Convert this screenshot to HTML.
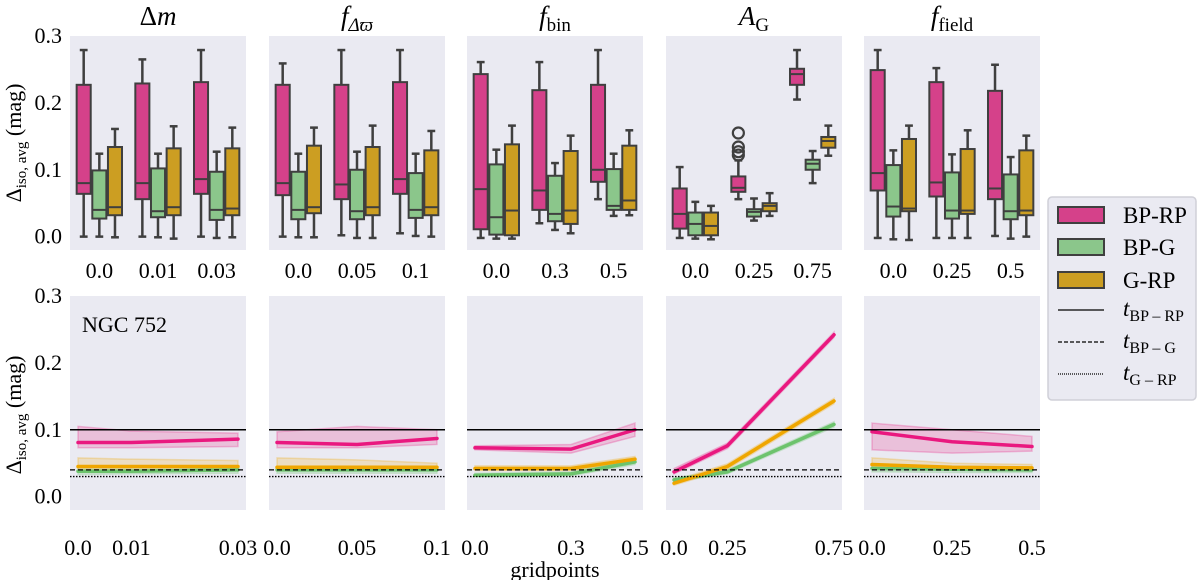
<!DOCTYPE html>
<html><head><meta charset="utf-8"><style>
body{margin:0;background:#fff;}
svg{display:block;}
svg text{font-family:"Liberation Serif","Times New Roman","DejaVu Serif",serif;}
</style></head><body>
<svg id="fig" width="1200" height="580" viewBox="0 0 1200 580" xmlns="http://www.w3.org/2000/svg"></svg>
<script>
// ---- data ----
const panelTitles = ['Δm','f_Δϖ','f_bin','A_G','f_field'];
const panelCats = [['0.0','0.01','0.03'],['0.0','0.05','0.1'],['0.0','0.3','0.5'],['0.0','0.25','0.75'],['0.0','0.25','0.5']];
const panelX = [[0,0.01,0.03],[0,0.05,0.1],[0,0.3,0.5],[0,0.25,0.75],[0,0.25,0.5]];
const seriesNames = ['BP-RP','BP-G','G-RP'];
const yTicks = [0.0,0.1,0.2,0.3];
// box stats [lo,q1,med,q3,hi] per panel -> category -> series
const boxStats = [
 [[[0,.064,.080,.227,.279],[0,.027,.040,.099,.124],[-.001,.032,.044,.134,.161]],
  [[0,.056,.080,.229,.265],[-.001,.029,.038,.102,.124],[-.003,.032,.044,.132,.165]],
  [[0,.064,.086,.231,.279],[-.002,.025,.040,.097,.127],[-.001,.032,.042,.132,.163]]],
 [[[0,.062,.080,.227,.259],[-.001,.026,.040,.097,.124],[-.001,.035,.044,.136,.163]],
  [[.002,.056,.078,.227,.279],[-.002,.026,.038,.100,.127],[-.002,.032,.044,.134,.166]],
  [[.005,.064,.086,.231,.279],[.001,.028,.040,.095,.124],[0,.032,.044,.129,.158]]],
 [[[-.002,.011,.071,.243,.261],[-.003,.003,.029,.108,.130],[-.003,.002,.039,.138,.166]],
  [[.020,.040,.069,.219,.261],[.010,.023,.034,.091,.110],[.005,.019,.039,.128,.151]],
  [[.056,.082,.100,.227,.279],[.031,.040,.046,.101,.124],[.032,.040,.054,.136,.159]]],
 [[[-.002,.012,.034,.072,.104],[-.003,.002,.019,.036,.052],[-.004,.002,.016,.036,.046]],
  [[.056,.067,.073,.090,.114],[.024,.030,.037,.041,.057],[.031,.038,.046,.050,.065]],
  [[.205,.227,.243,.251,.279],[.080,.100,.109,.115,.128],[.121,.133,.143,.149,.166]]],
 [[[-.002,.069,.095,.249,.279],[-.004,.030,.045,.107,.129],[-.005,.038,.042,.146,.166]],
  [[-.002,.060,.081,.231,.252],[-.002,.027,.039,.096,.123],[-.002,.034,.039,.131,.159]],
  [[.001,.056,.072,.218,.257],[-.003,.026,.038,.093,.119],[0,.032,.039,.129,.151]]]
];
const outliers = [[],[],[],[[1,0,.155],[1,0,.134],[1,0,.127],[1,0,.122]],[]]; // [cat, series, value]
// line means per panel -> series
const lineMean = [
 [[.081,.081,.086],[.038,.038,.040],[.045,.045,.045]],
 [[.081,.078,.087],[.040,.040,.040],[.044,.044,.044]],
 [[.073,.071,.100],[.032,.034,.052],[.042,.042,.056]],
 [[.037,.076,.242],[.025,.037,.108],[.020,.045,.143]],
 [[.097,.082,.075],[.042,.041,.040],[.048,.044,.043]]
];
const bandLo = [
 [[.073,.073,.075],[.033,.034,.035],[.040,.040,.040]],
 [[.073,.073,.078],[.035,.035,.035],[.040,.040,.040]],
 [[.070,.065,.090],[.030,.031,.048],[.039,.039,.052]],
 [[.034,.072,.238],[.022,.034,.104],[.017,.041,.139]],
 [[.070,.065,.068],[.037,.036,.036],[.042,.040,.040]]
];
const bandHi = [
 [[.105,.098,.095],[.045,.045,.045],[.058,.056,.054]],
 [[.097,.105,.100],[.045,.045,.045],[.058,.055,.050]],
 [[.076,.078,.110],[.035,.037,.056],[.046,.046,.060]],
 [[.042,.080,.246],[.028,.040,.112],[.024,.049,.147]],
 [[.110,.100,.090],[.046,.045,.044],[.058,.050,.048]]
];
const thresholds = [0.1,0.04,0.03];
const thrNames = ['t-bp-rp','t-bp-g','t-g-rp'];

// ---- styles ----
const NS='http://www.w3.org/2000/svg';
const svg=document.getElementById('fig');
const boxCol=['#d5418a','#8bc68b','#cc9e22'];
const lineCol=['#e9187f','#6dc36d','#efa600'];
const panelLeft=[70,269,467,666,864], PW=176;
const topY0=36, topY1=250, botY0=296, botY1=510, ymin=-0.02, ymax=0.3;
function yTop(v){return topY0+(ymax-v)/(ymax-ymin)*(topY1-topY0);}
function yBot(v){return botY0+(ymax-v)/(ymax-ymin)*(botY1-botY0);}
function mk(tag,attrs,parent){const e=document.createElementNS(NS,tag);for(const k in attrs)e.setAttribute(k,attrs[k]);(parent||svg).appendChild(e);return e;}
function txt(s,attrs,parent){const e=mk('text',attrs,parent);e.textContent=s;return e;}

const titleHTML=[
 ['Δ','m',''],['f','','Δϖ'],['f','','bin'],['A','','G'],['f','','field']
];
for(let p=0;p<5;p++){
  const L=panelLeft[p];
  const t=mk('text',{x:L+PW/2,y:25,'text-anchor':'middle','font-size':27});
  
  
  const th=titleHTML[p];
  const a=mk('tspan',{'font-style':th[0]==='Δ'?'normal':'italic'},t);a.textContent=th[0];
  if(th[1]){const b=mk('tspan',{'font-style':'italic'},t);b.textContent=th[1];}
  if(th[2]){const c=mk('tspan',{'font-size':19,dy:6,'font-style':p===1?'italic':'normal'},t);c.textContent=th[2];}

  // ---- top panel ----
  const g=mk('g',{});
  
  
  mk('rect',{x:L,y:topY0,width:PW,height:topY1-topY0,fill:'#eaeaf2'},g);
  const cw=PW/3;
  for(let c=0;c<3;c++){
    const cx=L+cw*c+cw/2;
    const tl=txt(panelCats[p][c],{x:cx,y:278,'text-anchor':'middle','font-size':22},svg);
    
    
    const bw=cw*0.8/3;
    for(let s=0;s<3;s++){
      const st=boxStats[p][c][s];
      const x0=cx-cw*0.4+bw*s, xm=x0+bw/2;
      const bg=mk('g',{},g);
      
      
      mk('line',{x1:xm,x2:xm,y1:yTop(st[0]),y2:yTop(st[1]),stroke:'#3f3f3f','stroke-width':2.5},bg);
      mk('line',{x1:xm,x2:xm,y1:yTop(st[3]),y2:yTop(st[4]),stroke:'#3f3f3f','stroke-width':2.5},bg);
      mk('line',{x1:xm-bw/4,x2:xm+bw/4,y1:yTop(st[0]),y2:yTop(st[0]),stroke:'#3f3f3f','stroke-width':2.5},bg);
      mk('line',{x1:xm-bw/4,x2:xm+bw/4,y1:yTop(st[4]),y2:yTop(st[4]),stroke:'#3f3f3f','stroke-width':2.5},bg);
      mk('rect',{x:x0+0.8,y:yTop(st[3]),width:bw-1.6,height:yTop(st[1])-yTop(st[3]),fill:boxCol[s],stroke:'#3f3f3f','stroke-width':2},bg);
      mk('line',{x1:x0+0.8,x2:x0+bw-0.8,y1:yTop(st[2]),y2:yTop(st[2]),stroke:'#3f3f3f','stroke-width':2},bg);
    }
  }
  for(const o of outliers[p]){
    const bw=cw*0.8/3;
    const xm=L+cw*o[0]+cw/2-cw*0.4+bw*o[1]+bw/2;
    const oc=mk('circle',{cx:xm,cy:yTop(o[2]),r:5.5,fill:'none',stroke:'#3f3f3f','stroke-width':2.2},g);
    
    
  }

  // ---- bottom panel ----
  const xs=panelX[p], xr=xs[2]-xs[0];
  const xmn=xs[0]-0.05*xr, xmx=xs[2]+0.05*xr;
  const xB=v=>L+(v-xmn)/(xmx-xmn)*PW;
  const gb=mk('g',{});
  
  
  mk('rect',{x:L,y:botY0,width:PW,height:botY1-botY0,fill:'#eaeaf2'},gb);
  for(let s=0;s<3;s++){
    let d='';
    for(let i=0;i<3;i++)d+=(i?'L':'M')+xB(xs[i])+','+yBot(bandHi[p][s][i]);
    for(let i=2;i>=0;i--)d+='L'+xB(xs[i])+','+yBot(bandLo[p][s][i]);
    const band=mk('path',{d:d+'Z',fill:lineCol[s],'fill-opacity':0.2,stroke:lineCol[s],'stroke-opacity':0.25,'stroke-width':1.5},gb);
    
    
  }
  const order=[1,2,0];
  for(const s of order){
    const pts=xs.map((x,i)=>xB(x)+','+yBot(lineMean[p][s][i])).join(' ');
    const pl=mk('polyline',{points:pts,fill:'none',stroke:lineCol[s],'stroke-width':3.5,'stroke-linecap':'round'},gb);
    
    
  }
  const dash=[null,'5,3','1.5,1.5'];
  for(let k=0;k<3;k++){
    const ln=mk('line',{x1:L,x2:L+PW,y1:yBot(thresholds[k]),y2:yBot(thresholds[k]),stroke:'#000','stroke-width':k===0?1.5:1.3},gb);
    if(dash[k])ln.setAttribute('stroke-dasharray',dash[k]);
    
    
  }
  for(let i=0;i<3;i++){
    const tl=txt(panelCats[p][i],{x:xB(xs[i]),y:555,'text-anchor':'middle','font-size':22});
    
    
  }
}
// y ticks
for(const v of yTicks){
  const a=txt(v.toFixed(1),{x:62,y:yTop(v)+7,'text-anchor':'end','font-size':22});
  
  
  const b=txt(v.toFixed(1),{x:62,y:yBot(v)+7,'text-anchor':'end','font-size':22});
  
  
}
// y labels
for(const [cy,nm] of [[143,'top-y-axis-title'],[415,'bottom-y-axis-title']]){
  const t=mk('text',{transform:'translate(21,'+cy+') rotate(-90)','text-anchor':'middle','font-size':22});
  
  
  const a=mk('tspan',{},t);a.textContent='Δ';
  const b=mk('tspan',{'font-size':15,dy:5},t);b.textContent='iso, avg';
  const c=mk('tspan',{dy:-5},t);c.textContent=' (mag)';
}
const ngc=txt('NGC 752',{x:82,y:332,'font-size':22});


const gp=txt('gridpoints',{x:555,y:577,'text-anchor':'middle','font-size':22});



// legend
const lg=mk('g',{});


mk('rect',{x:1048,y:197,width:148,height:203,rx:4,fill:'#eaeaf2',stroke:'#d0d0d8','stroke-width':1.5},lg);
const rowsY=[215,247,280,313,345,377];
for(let s=0;s<3;s++){
  const e=mk('g',{},lg);
  
  
  mk('rect',{x:1058,y:rowsY[s]-8,width:46,height:16,fill:boxCol[s],stroke:'#3f3f3f','stroke-width':2},e);
  txt(seriesNames[s],{x:1123,y:rowsY[s]+8,'font-size':23},e);
}
const tsubs=['BP – RP','BP – G','G – RP'];
for(let k=0;k<3;k++){
  const y=rowsY[3+k];
  const e=mk('g',{},lg);
  
  
  const ln=mk('line',{x1:1058,x2:1104,y1:y-3,y2:y-3,stroke:'#000','stroke-width':1.3},e);
  if(k===1)ln.setAttribute('stroke-dasharray','4,2');
  if(k===2)ln.setAttribute('stroke-dasharray','1,1');
  const t=mk('text',{x:1123,y:y+3,'font-size':23},e);
  const a=mk('tspan',{'font-style':'italic'},t);a.textContent='t';
  const b=mk('tspan',{'font-size':16,dy:5},t);b.textContent=tsubs[k];
}
</script>
</body></html>
